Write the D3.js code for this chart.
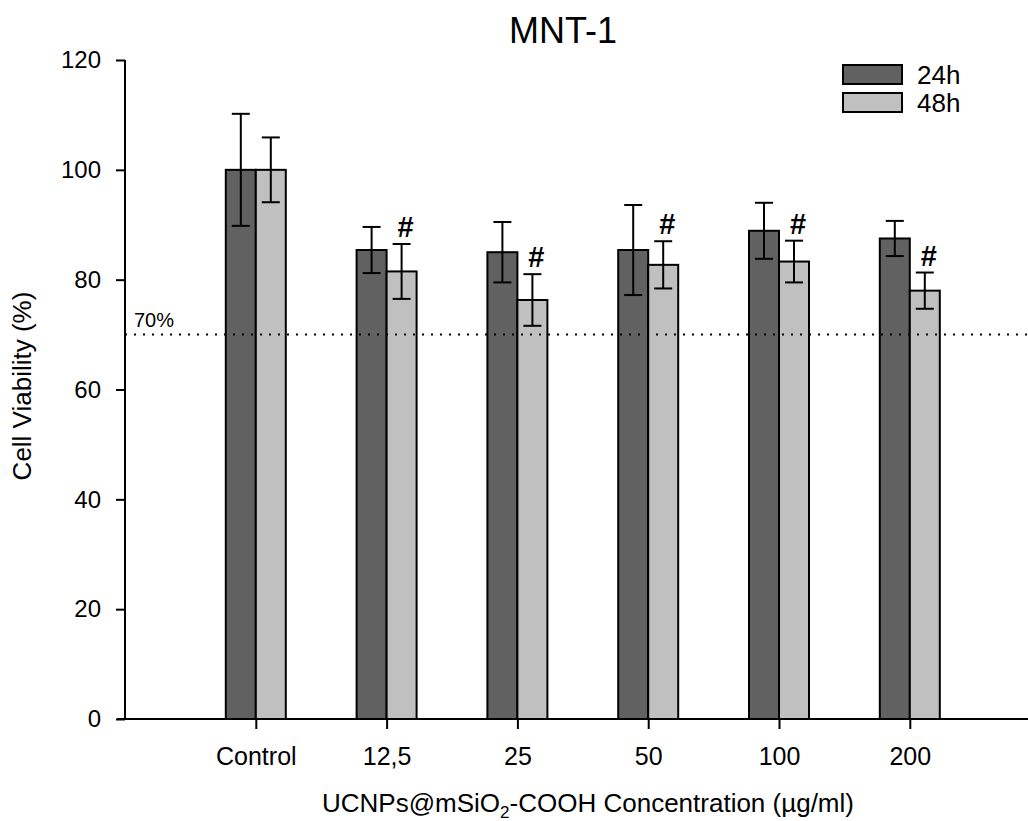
<!DOCTYPE html>
<html>
<head>
<meta charset="utf-8">
<script src="https://cdn.jsdelivr.net/npm/d3@7"></script>
<style>
  html, body { margin: 0; padding: 0; background: #fff; }
  svg { display: block; font-family: Arial, "Liberation Sans", sans-serif; }
</style>
</head>
<body>
<svg id="chart" width="1028" height="821"></svg>
<script>
// Cell viability of MNT-1 cells after 24 h and 48 h exposure
const categories = ["Control", "12,5", "25", "50", "100", "200"];
const seriesNames = ["24h", "48h"];
const mean24 = [100, 85.4, 85.0, 85.4, 88.9, 87.5];
const sd24   = [10.2, 4.2, 5.5, 8.2, 5.1, 3.2];
const mean48 = [100, 81.5, 76.3, 82.7, 83.3, 78.0];
const sd48   = [5.9, 5.0, 4.7, 4.3, 3.8, 3.3];
const significant48 = [false, true, true, true, true, true];
const yTicks = [0, 20, 40, 60, 80, 100, 120];
const threshold = 70;

const fills = { "24h": "#616161", "48h": "#c0c0c0" };
const FONT = "Arial, 'Liberation Sans', sans-serif";

const svg = d3.select("#chart");

const x = d3.scalePoint().domain(categories).range([125, 1040.6]).padding(1);
const y = d3.scaleLinear().domain([0, 120]).range([719, 60]);
const barW = 30;

const rows = [];
categories.forEach((c, i) => {
  rows.push({ cat: c, series: "24h", mean: mean24[i], sd: sd24[i], off: -barW, sig: false });
  rows.push({ cat: c, series: "48h", mean: mean48[i], sd: sd48[i], off: 0, sig: significant48[i] });
});

// Bars
svg.append("g").selectAll("rect").data(rows).join("rect")
  .attr("x", d => x(d.cat) + d.off)
  .attr("y", d => y(d.mean))
  .attr("width", barW)
  .attr("height", d => y(0) - y(d.mean))
  .attr("fill", d => fills[d.series])
  .attr("stroke", "#000")
  .attr("stroke-width", 2);

// Error bars
const eb = svg.append("g").attr("stroke", "#000").attr("stroke-width", 2);
rows.forEach(d => {
  const cx = x(d.cat) + d.off + barW / 2;
  eb.append("line").attr("x1", cx).attr("x2", cx)
    .attr("y1", y(d.mean + d.sd)).attr("y2", y(d.mean - d.sd));
  [d.mean + d.sd, d.mean - d.sd].forEach(v => {
    eb.append("line").attr("x1", cx - 9).attr("x2", cx + 9)
      .attr("y1", y(v)).attr("y2", y(v));
  });
});

// Significance marks
svg.append("g").selectAll("text").data(rows.filter(d => d.sig)).join("text")
  .attr("x", d => x(d.cat) + d.off + barW / 2 + 4)
  .attr("y", d => y(d.mean + d.sd) - 7)
  .attr("text-anchor", "middle")
  .attr("font-size", 29)
  .attr("font-weight", "bold")
  .attr("fill", "#000")
  .text("#");

// 70% reference line
svg.append("line")
  .attr("x1", 125).attr("x2", 1028)
  .attr("y1", y(threshold)).attr("y2", y(threshold))
  .attr("stroke", "#000").attr("stroke-width", 2)
  .attr("stroke-dasharray", "2,7")
  .attr("stroke-linecap", "butt");
svg.append("text")
  .attr("x", 134).attr("y", y(threshold) - 8)
  .attr("font-size", 20).attr("fill", "#000")
  .text("70%");

// Y axis
const yAxis = svg.append("g").attr("transform", "translate(125,0)")
  .call(d3.axisLeft(y).tickValues(yTicks).tickSize(9).tickPadding(15).tickFormat(d3.format("d")));
yAxis.select(".domain").attr("d", `M0,${y(120)}V${y(0)}`).attr("stroke-width", 2);
yAxis.selectAll(".tick line").attr("stroke-width", 2);
yAxis.selectAll(".tick text").attr("font-size", 24).attr("fill", "#000")
  .attr("font-family", FONT);

// X axis
const xAxis = svg.append("g").attr("transform", `translate(0,${y(0)})`)
  .call(d3.axisBottom(x).tickSize(10).tickPadding(18));
xAxis.select(".domain").attr("d", "M117,0H1028").attr("stroke-width", 2);
xAxis.selectAll(".tick line").attr("stroke-width", 2);
xAxis.selectAll(".tick text").attr("font-size", 25).attr("fill", "#000")
  .attr("font-family", FONT);

// Title
svg.append("text")
  .attr("x", 563).attr("y", 43)
  .attr("text-anchor", "middle")
  .attr("font-size", 36).attr("fill", "#000")
  .text("MNT-1");

// Axis titles
svg.append("text")
  .attr("transform", "translate(31,386) rotate(-90)")
  .attr("text-anchor", "middle")
  .attr("font-size", 26).attr("fill", "#000")
  .text("Cell Viability (%)");

const xt = svg.append("text")
  .attr("x", 588).attr("y", 812)
  .attr("text-anchor", "middle")
  .attr("font-size", 26).attr("fill", "#000");
xt.append("tspan").text("UCNPs@mSiO");
xt.append("tspan").attr("font-size", 17).attr("dy", 6).text("2");
xt.append("tspan").attr("dy", -6).text("-COOH Concentration (\u00b5g/ml)");

// Legend
const lg = svg.append("g");
seriesNames.forEach((s, i) => {
  lg.append("rect")
    .attr("x", 843).attr("y", 65 + i * 28)
    .attr("width", 59).attr("height", 19)
    .attr("fill", fills[s]).attr("stroke", "#000").attr("stroke-width", 2);
  lg.append("text")
    .attr("x", 917).attr("y", 84 + i * 28)
    .attr("font-size", 26).attr("fill", "#000")
    .text(s);
});
</script>
</body>
</html>
